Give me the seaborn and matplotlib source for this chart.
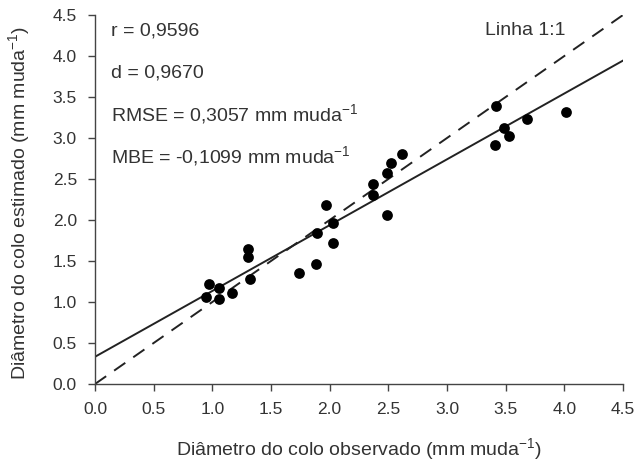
import numpy as np
import pandas as pd
import matplotlib
matplotlib.use("Agg")
import matplotlib.pyplot as plt
import seaborn as sns

observed = [0.97, 1.06, 0.95, 1.06, 1.17, 1.30, 1.30, 1.32, 1.74, 1.88, 1.89, 1.97, 2.03, 2.03,
            2.37, 2.37, 2.49, 2.52, 2.62, 2.49, 3.42, 3.49, 3.68, 3.53, 3.41, 4.01]
estimated = [1.22, 1.17, 1.06, 1.04, 1.11, 1.65, 1.55, 1.28, 1.35, 1.46, 1.84, 2.18, 1.96, 1.72,
             2.44, 2.30, 2.57, 2.69, 2.80, 2.06, 3.39, 3.12, 3.23, 3.02, 2.91, 3.32]
ticks = [0.0, 0.5, 1.0, 1.5, 2.0, 2.5, 3.0, 3.5, 4.0, 4.5]
stats = ["r = 0,9596", "d = 0,9670",
         "RMSE = 0,3057 mm muda$^{\\mathregular{-1}}$",
         "MBE = -0,1099 mm muda$^{\\mathregular{-1}}$"]

df = pd.DataFrame({"obs": observed, "est": estimated})

sns.set_style("ticks")
plt.rcParams['font.family'] = ['Liberation Sans', 'DejaVu Sans']
tc = "#333333"

fig = plt.figure(figsize=(6.36, 4.63), dpi=100)
ax = fig.add_axes([95 / 636, 1 - 384 / 463, 528 / 636, 369 / 463])

# 1:1 line
ax.plot([0, 4.5], [0, 4.5], ls=(0, (7, 5)), color="#222222", lw=1.4, zorder=1)
# regression line
sns.regplot(data=df, x="obs", y="est", ax=ax, ci=None, truncate=False,
            scatter=False, line_kws=dict(color="#222222", lw=1.4))
sns.scatterplot(data=df, x="obs", y="est", ax=ax, color="black", s=60,
                edgecolor="black", linewidth=0, zorder=3)

ax.set_xlim(0, 4.5)
ax.set_ylim(0, 4.5)
ax.set_xticks(ticks)
ax.set_yticks(ticks)
ax.set_xticklabels([f"{t:.1f}" for t in ticks], fontsize=12.5, color=tc)
ax.set_yticklabels([f"{t:.1f}" for t in ticks], fontsize=12.5, color=tc)
ax.tick_params(direction="out", length=5, width=1, color="#444444")
ax.tick_params(axis="x", pad=8)
ax.tick_params(axis="y", pad=8)
for s in ["top", "right"]:
    ax.spines[s].set_visible(False)
for s in ["left", "bottom"]:
    ax.spines[s].set_color("#444444")
    ax.spines[s].set_linewidth(1)

ax.set_xlabel("Diâmetro do colo observado (mm muda$^{\\mathregular{-1}}$)", fontsize=14, color=tc)
ax.set_ylabel("Diâmetro do colo estimado (mm muda$^{\\mathregular{-1}}$)", fontsize=14, color=tc)
ax.xaxis.set_label_coords(0.5, -0.142)
ax.yaxis.set_label_coords(-0.117, 0.49)

for i, s in enumerate(stats):
    ax.text(0.14, 4.30 - i * 0.51, s, fontsize=14, color=tc, va="center", ha="left")
ax.text(3.32, 4.31, "Linha 1:1", fontsize=14, color=tc, va="center", ha="left")

fig.savefig("out.png", dpi=100)
